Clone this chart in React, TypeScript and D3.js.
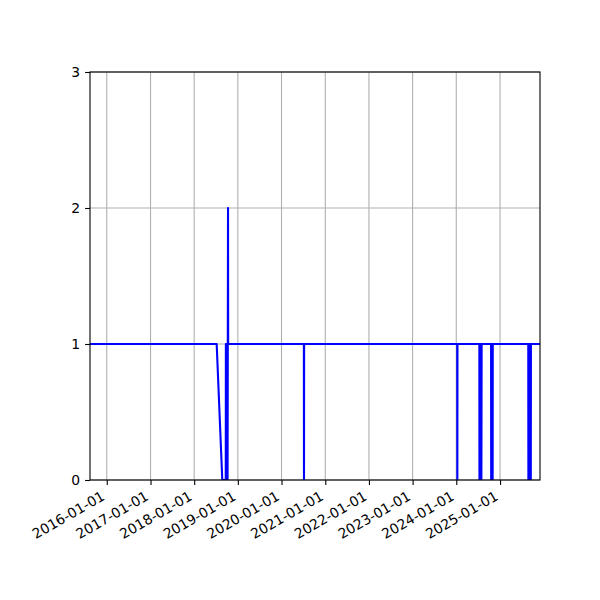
import * as React from 'react';
import * as d3 from 'd3';

// each run of the series: [date, value]
const LEAD_IN: [string, number][] = [
    ['2015-08-14', 1],
    ['2018-07-08', 1],
    ['2018-08-24', 0],
    ['2018-09-22', 0]
];

const DROPS_2018: [string, number][] = [
    ['2018-09-23', 1], ['2018-09-25', 0], ['2018-09-27', 1], ['2018-09-29', 0],
    ['2018-10-01', 1], ['2018-10-03', 0], ['2018-10-05', 1], ['2018-10-07', 0],
    ['2018-10-09', 1], ['2018-10-11', 2], ['2018-10-12', 1]
];

const DROPS_2020: [string, number][] = [
    ['2020-07-06', 1], ['2020-07-07', 0], ['2020-07-08', 1]
];

const DROPS_2024: [string, number][] = [
    ['2024-01-09', 1], ['2024-01-10', 0], ['2024-01-11', 1],
    ['2024-07-12', 1], ['2024-07-13', 0], ['2024-07-15', 1], ['2024-07-17', 0],
    ['2024-07-19', 1], ['2024-07-21', 0], ['2024-07-23', 1], ['2024-07-25', 0],
    ['2024-07-27', 1], ['2024-07-29', 0], ['2024-07-31', 1],
    ['2024-10-18', 1], ['2024-10-19', 0], ['2024-10-21', 1], ['2024-10-23', 0],
    ['2024-10-25', 1], ['2024-10-27', 0], ['2024-10-29', 1], ['2024-10-31', 0],
    ['2024-11-01', 1]
];

const DROPS_2025: [string, number][] = [
    ['2025-08-25', 1], ['2025-08-26', 0], ['2025-08-28', 1], ['2025-08-30', 0],
    ['2025-09-01', 1], ['2025-09-03', 0], ['2025-09-05', 1], ['2025-09-07', 0],
    ['2025-09-09', 1], ['2025-09-11', 0], ['2025-09-13', 1], ['2025-09-15', 0],
    ['2025-09-16', 1],
    ['2025-12-01', 1]
];

const X_DOMAIN = ['2015-08-14', '2025-12-01'];
const X_TICKS = ['2016-01-01', '2017-01-01', '2018-01-01', '2019-01-01', '2020-01-01',
    '2021-01-01', '2022-01-01', '2023-01-01', '2024-01-01', '2025-01-01'];
const Y_TICKS = [0, 1, 2, 3];

interface Pt {
    date: Date;
    v: number;
}

const parse = d3.utcParse('%Y-%m-%d');

export default function App() {
    const svgRef = React.useRef<SVGSVGElement>(null);

    React.useEffect(() => {
        const MARGIN = { top: 72, right: 60, bottom: 120, left: 90 };
        const WIDTH = 600;
        const HEIGHT = 600;
        const innerWidth = WIDTH - MARGIN.left - MARGIN.right;
        const innerHeight = HEIGHT - MARGIN.top - MARGIN.bottom;
        const FONT = '13.9px "DejaVu Sans", sans-serif';

        const svg = d3.select(svgRef.current);
        svg.selectAll('*').remove();
        const g = svg.append('g').attr('transform', `translate(${MARGIN.left},${MARGIN.top})`);

        const data: Pt[] = [...LEAD_IN, ...DROPS_2018, ...DROPS_2020, ...DROPS_2024, ...DROPS_2025]
            .map(([d, v]) => ({ date: parse(d)!, v }));

        const xScale = d3.scaleUtc()
            .domain(X_DOMAIN.map(d => parse(d)!) as [Date, Date])
            .range([0, innerWidth]);
        const yScale = d3.scaleLinear().domain([0, 3]).range([innerHeight, 0]);

        // grid
        const xTickDates = X_TICKS.map(d => parse(d)!);
        g.append('g')
            .selectAll('line')
            .data(xTickDates)
            .enter()
            .append('line')
            .attr('x1', d => xScale(d)).attr('x2', d => xScale(d))
            .attr('y1', 0).attr('y2', innerHeight)
            .attr('stroke', '#b0b0b0').attr('stroke-width', 1.1);
        g.append('g')
            .selectAll('line')
            .data(Y_TICKS)
            .enter()
            .append('line')
            .attr('x1', 0).attr('x2', innerWidth)
            .attr('y1', d => yScale(d)).attr('y2', d => yScale(d))
            .attr('stroke', '#b0b0b0').attr('stroke-width', 1.1);

        // line
        const clipId = 'plot-clip';
        svg.append('defs').append('clipPath').attr('id', clipId)
            .append('rect').attr('width', innerWidth).attr('height', innerHeight);
        const line = d3.line<Pt>().x(d => xScale(d.date)).y(d => yScale(d.v));
        g.append('path')
            .datum(data)
            .attr('clip-path', `url(#${clipId})`)
            .attr('fill', 'none')
            .attr('stroke', '#0000ff')
            .attr('stroke-width', 2.1)
            .attr('stroke-linejoin', 'round')
            .attr('d', line);

        // frame
        g.append('rect')
            .attr('width', innerWidth).attr('height', innerHeight)
            .attr('fill', 'none').attr('stroke', '#000').attr('stroke-width', 1.1);

        // axes
        const xAxis = d3.axisBottom(xScale)
            .tickValues(xTickDates)
            .tickSize(4.9)
            .tickPadding(3)
            .tickFormat(d => d3.utcFormat('%Y-%m-%d')(d as Date));
        const xAxisDom = g.append('g').attr('transform', `translate(0,${innerHeight})`).call(xAxis);
        xAxisDom.select('.domain').remove();
        xAxisDom.selectAll('line').attr('stroke-width', 1.1);
        xAxisDom.selectAll('text')
            .style('font', FONT)
            .attr('fill', '#000')
            .attr('text-anchor', 'end')
            .attr('x', 0).attr('y', 0).attr('dy', 0)
            .attr('transform', 'translate(-1.5,19) rotate(-30)');

        const yAxis = d3.axisLeft(yScale)
            .tickValues(Y_TICKS)
            .tickSize(4.9)
            .tickPadding(4.9)
            .tickFormat(d3.format('d'));
        const yAxisDom = g.append('g').call(yAxis);
        yAxisDom.select('.domain').remove();
        yAxisDom.selectAll('line').attr('stroke-width', 1.1);
        yAxisDom.selectAll('text').style('font', FONT).attr('fill', '#000');
    });

    return (
        <svg
            ref={svgRef}
            width={600}
            height={600}
            style={{ position: 'absolute', left: 0, top: 0, background: '#fff' }}
        />
    );
}
